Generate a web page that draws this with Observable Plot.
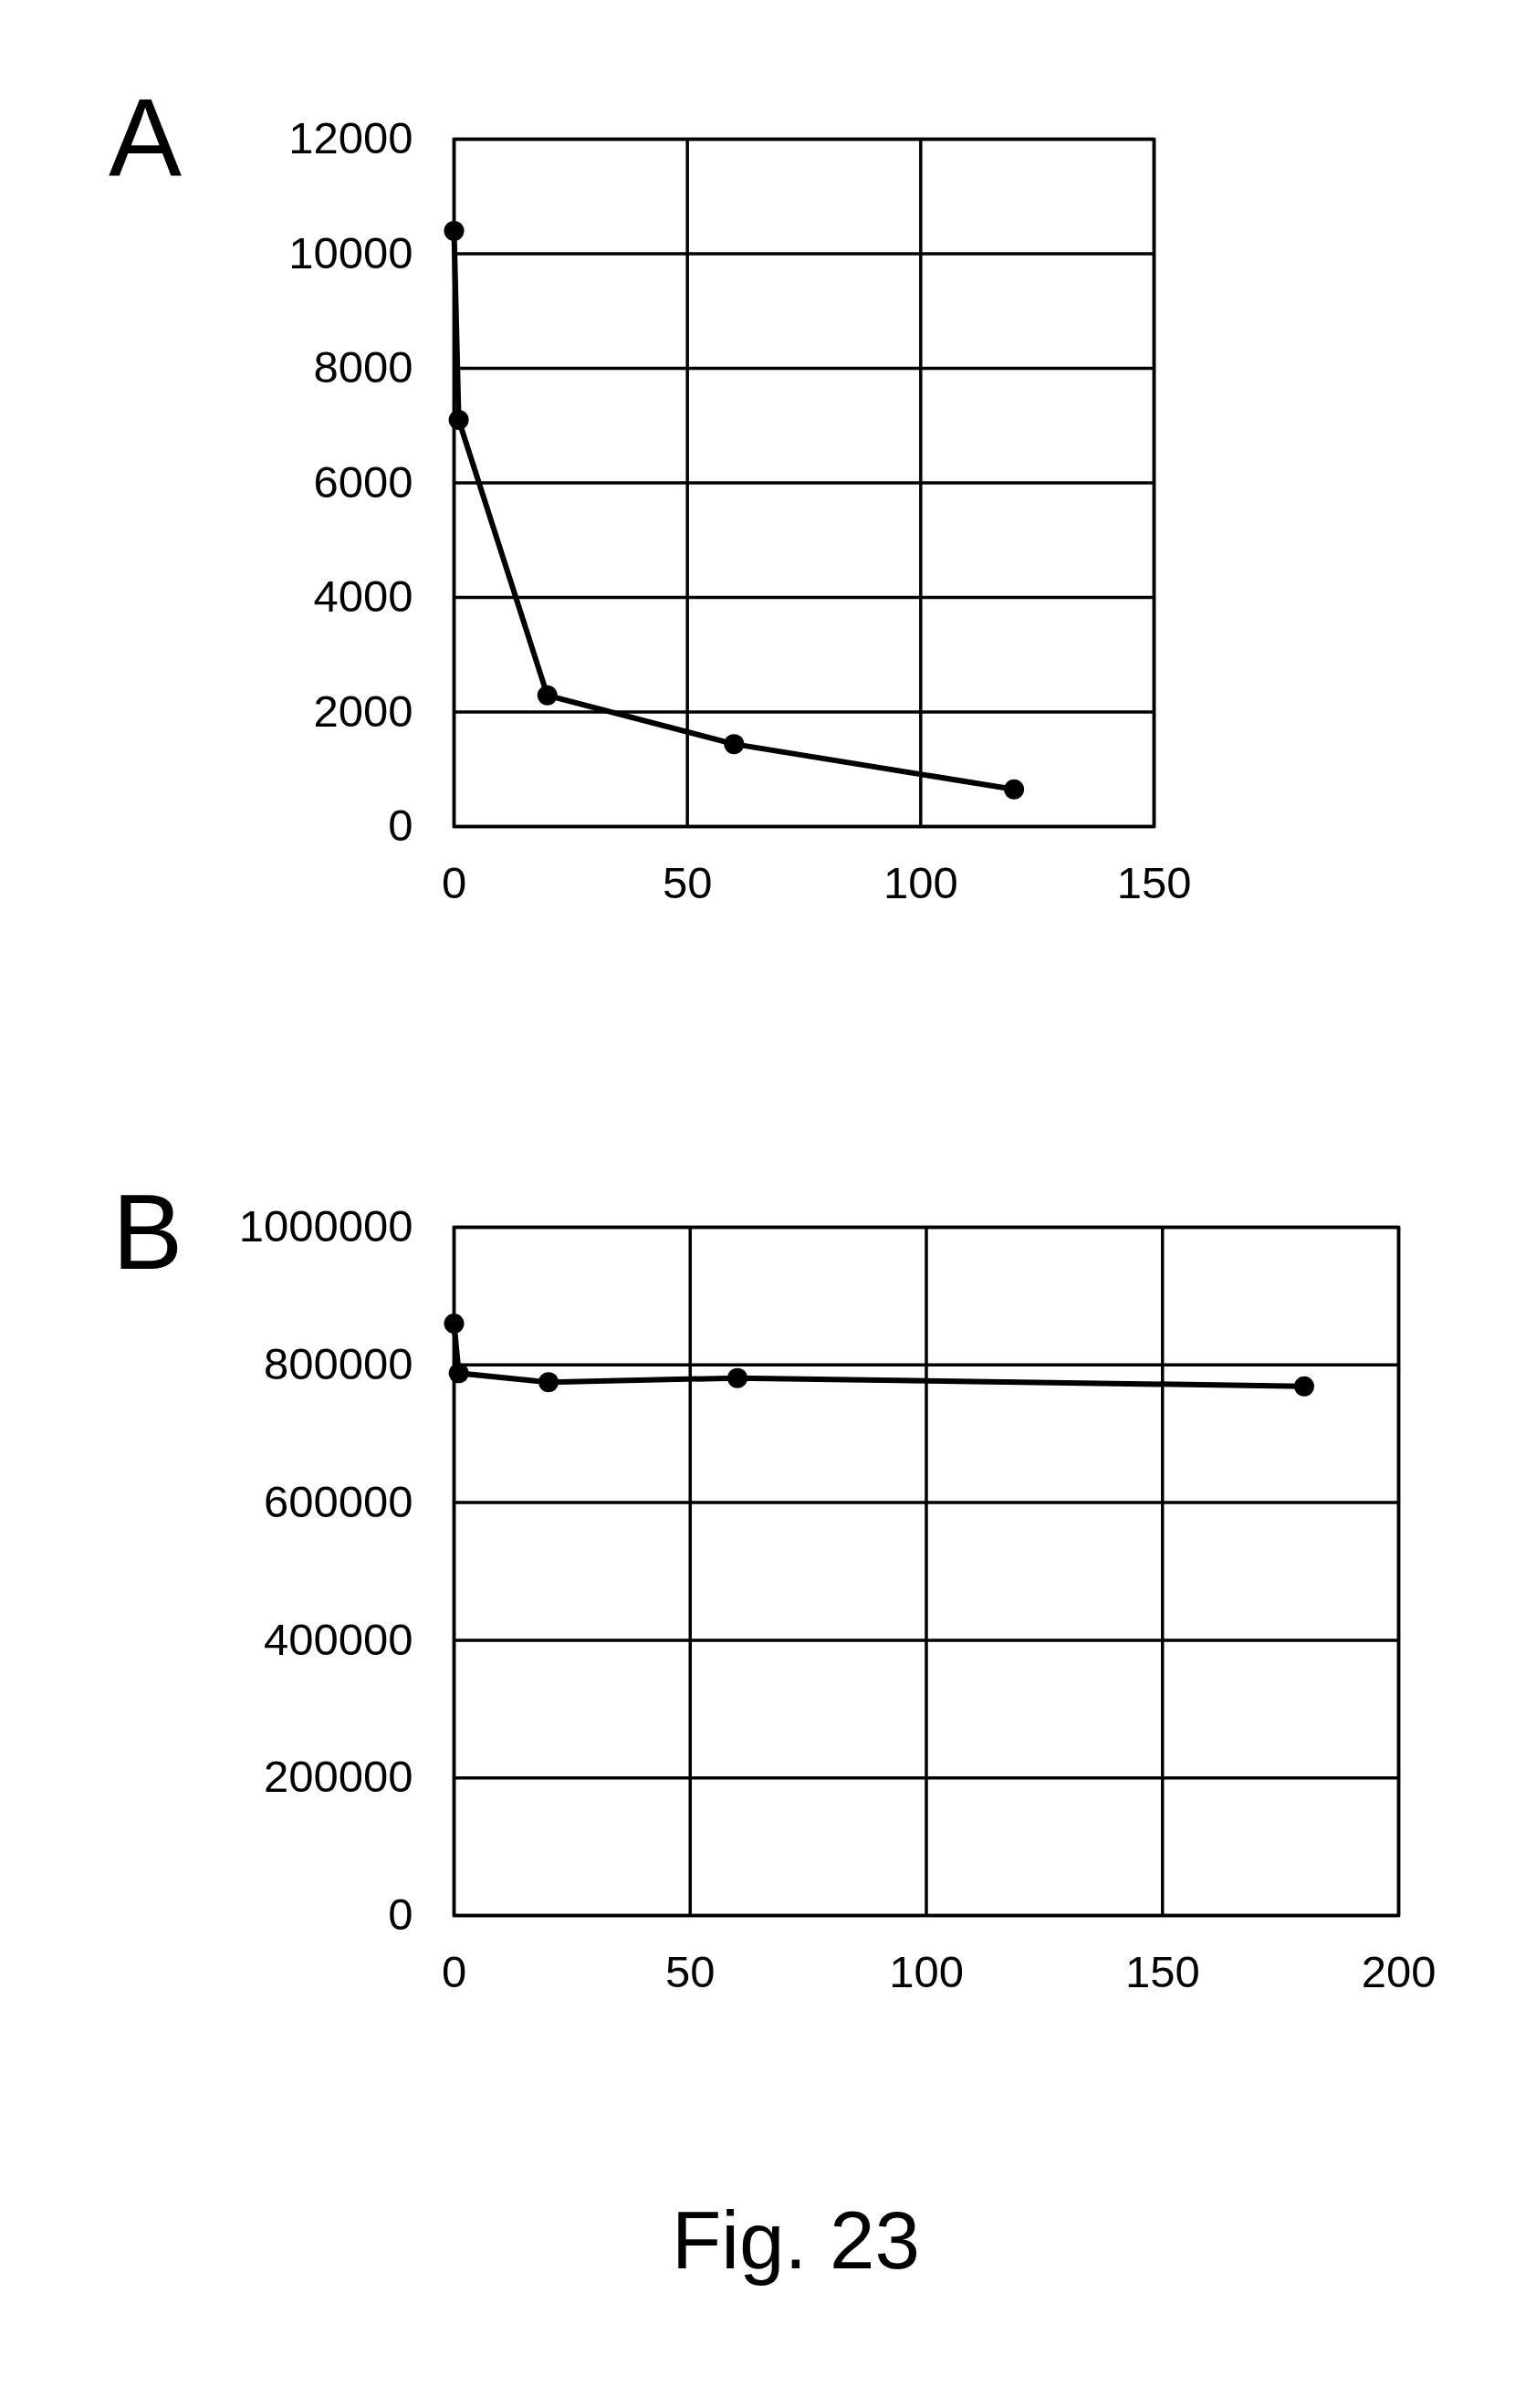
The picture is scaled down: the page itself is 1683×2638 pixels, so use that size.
<!DOCTYPE html>
<html>
<head>
<meta charset="utf-8">
<script src="https://cdn.jsdelivr.net/npm/d3@7"></script>
<script src="https://cdn.jsdelivr.net/npm/@observablehq/plot@0.6"></script>
<style>
  html, body { margin: 0; padding: 0; background: #fff; }
  body { width: 1683px; height: 2638px; position: relative; font-family: "Liberation Sans", Arial, sans-serif; }
  .abs { position: absolute; line-height: 1; color: #000; white-space: nowrap; }
  svg { font-family: "Liberation Sans", Arial, sans-serif; }
</style>
</head>
<body>
<script>
// Panel A data
const timeA = [0, 1, 20, 60, 120];
const valueA = [10400, 7100, 2290, 1440, 650];
const xTicksA = [0, 50, 100, 150];
const yTicksA = [0, 2000, 4000, 6000, 8000, 10000, 12000];

// Panel B data
const timeB = [0, 1, 20, 60, 180];
const valueB = [860000, 788000, 775000, 781000, 769000];
const xTicksB = [0, 50, 100, 150, 200];
const yTicksB = [0, 200000, 400000, 600000, 800000, 1000000];

const panelLabels = ["A", "B"];
const caption = "Fig. 23";

function panel(times, values, xTicks, yTicks, opts) {
  const data = times.map((t, i) => ({t, v: values[i]}));
  return Plot.plot({
    width: 1683,
    height: opts.height,
    marginLeft: 497,
    marginRight: opts.marginRight,
    marginTop: opts.marginTop,
    marginBottom: opts.marginBottom,
    style: {fontSize: "49px", fontFamily: "Liberation Sans, Arial, sans-serif", color: "#000", background: "#fff"},
    x: {domain: [xTicks[0], xTicks[xTicks.length - 1]], ticks: xTicks, tickSize: 0, tickPadding: 44, tickFormat: d => String(d), label: null},
    y: {domain: [yTicks[0], yTicks[yTicks.length - 1]], ticks: yTicks, tickSize: 0, tickPadding: 45, tickFormat: d => String(d), label: null},
    marks: [
      Plot.ruleY(yTicks, {stroke: "#000", strokeWidth: 3.5}),
      Plot.ruleX(xTicks, {stroke: "#000", strokeWidth: 3.5}),
      Plot.frame({stroke: "#000", strokeWidth: 3.5}),
      Plot.line(data, {x: "t", y: "v", stroke: "#000", strokeWidth: 6, strokeLinejoin: "round"}),
      Plot.dot(data, {x: "t", y: "v", r: 11, fill: "#000", stroke: "none"})
    ]
  });
}

const a = panel(timeA, valueA, xTicksA, yTicksA, {height: 1000, marginTop: 152, marginBottom: 95, marginRight: 419});
a.style.position = "absolute"; a.style.left = "0px"; a.style.top = "0px";
document.body.appendChild(a);

const b = panel(timeB, valueB, xTicksB, yTicksB, {height: 948, marginTop: 94, marginBottom: 100, marginRight: 151});
b.style.position = "absolute"; b.style.left = "0px"; b.style.top = "1250px";
document.body.appendChild(b);

function addText(txt, left, top, size, center) {
  const d = document.createElement("div");
  d.className = "abs";
  d.textContent = txt;
  d.style.left = left + "px";
  d.style.top = top + "px";
  d.style.fontSize = size + "px";
  if (center) d.style.transform = "translateX(-50%)";
  document.body.appendChild(d);
}
addText(panelLabels[0], 119, 90, 120, false);
addText(panelLabels[1], 123, 1292, 116, false);
addText(caption, 872, 2410, 89, true);
</script>
</body>
</html>
